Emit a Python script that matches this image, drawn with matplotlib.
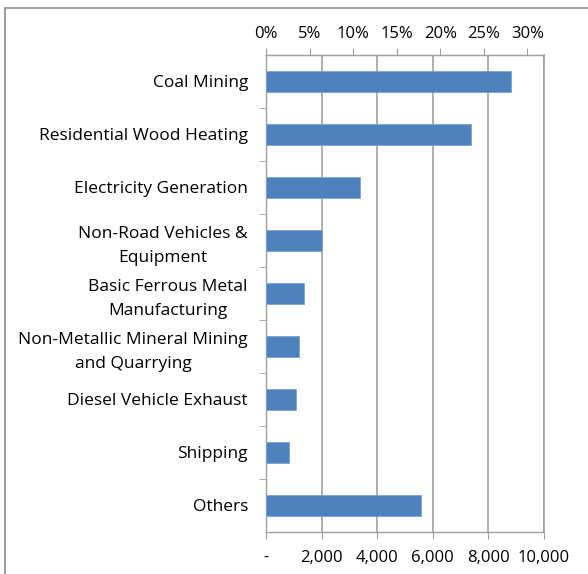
import numpy as np
import matplotlib
matplotlib.use("Agg")
import matplotlib.pyplot as plt
from matplotlib.ticker import FuncFormatter, FixedLocator
from matplotlib.patches import Rectangle

# sources, top to bottom
categories = ["Coal Mining", "Residential Wood Heating", "Electricity Generation",
              "Non-Road Vehicles &\nEquipment", "Basic Ferrous Metal\nManufacturing",
              "Non-Metallic Mineral Mining\nand Quarrying", "Diesel Vehicle Exhaust",
              "Shipping", "Others"]
values = [8830, 7360, 3390, 2000, 1355, 1175, 1080, 815, 5590]
total = 31350   # total emissions, used for the % axis on top

x_ticks = [0, 2000, 4000, 6000, 8000, 10000]
pct_ticks = [0, 5, 10, 15, 20, 25, 30]

plt.rcParams['font.family'] = ['Open Sans', 'DejaVu Sans']
grey = '#A0A0A0'

fig = plt.figure(figsize=(5.88, 5.74), dpi=100)
ax = fig.add_axes([0.4524, 0.0732, 0.4728, 0.831])

y = np.arange(len(categories))
ax.barh(y, values, height=0.41, color='#4F81BD', edgecolor='#7EA3D3', linewidth=0.6, zorder=3)
ax.set_ylim(len(categories) - 0.5, -0.5)
ax.set_xlim(0, 10000)

# Excel-like grid and spines
ax.xaxis.set_major_locator(FixedLocator(x_ticks))
ax.grid(axis='x', color=grey, linewidth=1.2, zorder=0)
for s in ax.spines.values():
    s.set_color(grey)
    s.set_linewidth(1.0)
ax.spines['right'].set_linewidth(1.2)

ax.xaxis.set_major_formatter(FuncFormatter(lambda v, p: '-' if v == 0 else '{:,.0f}'.format(v)))
ax.tick_params(axis='x', direction='out', length=5, color=grey, labelsize=12, pad=8)

# category labels, ticks between categories
ax.set_yticks(y)
ax.set_yticklabels(categories, fontsize=12.5, ha='right', multialignment='center', linespacing=1.65)
ax.tick_params(axis='y', which='major', length=0, pad=13)
ax.set_yticks(np.arange(len(categories) - 1) + 0.5, minor=True)
ax.tick_params(axis='y', which='minor', direction='out', length=5, color=grey)

# share axis on top
sec = ax.secondary_xaxis('top', functions=(lambda v: v / total * 100, lambda p: p * total / 100))
sec.set_xticks(pct_ticks)
sec.xaxis.set_major_formatter(FuncFormatter(lambda v, p: '{:.0f}%'.format(v)))
sec.tick_params(direction='out', length=5, color=grey, labelsize=12, pad=4)
sec.spines['top'].set_color(grey)

# outer chart frame
fig.patches.append(Rectangle((0.0085, -0.2), 2, 0.986 + 0.2, transform=fig.transFigure,
                             fill=False, edgecolor='#8C8C8C', linewidth=1.2))

fig.savefig('out.png', dpi=100)
